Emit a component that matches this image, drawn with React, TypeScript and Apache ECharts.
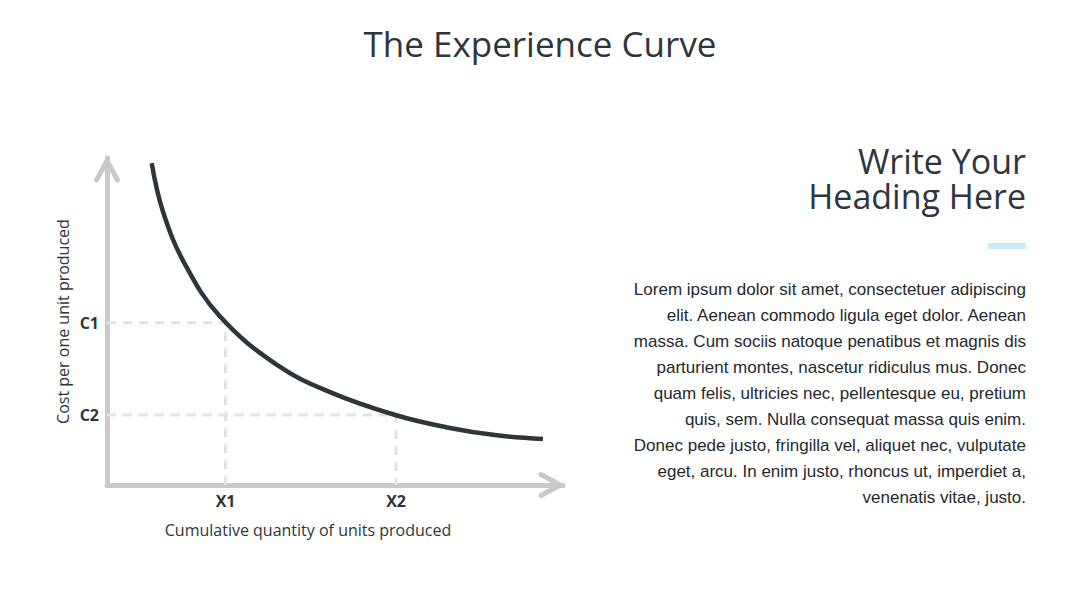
import React, { useEffect, useRef } from "react";
import * as echarts from "echarts";

// Experience curve: cost per unit against cumulative output
const curveX = [9.8, 12.3, 17.1, 24.8, 37.2, 48.9, 63.2, 74.6, 85.5, 95.6];
const curveY = [98.4, 83.5, 67.5, 51.5, 36.8, 28.4, 21.4, 17.6, 15.2, 14.1];

// Reference quantities (x) and their unit costs (y)
const xMarkLabels = ["X1", "X2"];
const xMarkValues = [26.0, 63.4];
const yMarkLabels = ["C1", "C2"];
const yMarkValues = [49.6, 21.4];

const titleText = "The Experience Curve";
const headingLines = ["Write Your", "Heading Here"];
const bodyText = [
  "Lorem ipsum dolor sit amet, consectetuer adipiscing",
  "elit. Aenean commodo ligula eget dolor. Aenean",
  "massa. Cum sociis natoque penatibus et magnis dis",
  "parturient montes, nascetur ridiculus mus. Donec",
  "quam felis, ultricies nec, pellentesque eu, pretium",
  "quis, sem. Nulla consequat massa quis enim.",
  "Donec pede justo, fringilla vel, aliquet nec, vulputate",
  "eget, arcu. In enim justo, rhoncus ut, imperdiet a,",
  "venenatis vitae, justo.",
];
const xAxisName = "Cumulative quantity of units produced";
const yAxisName = "Cost per one unit produced";

const DARK = "#2e363b";
const AXIS_GREY = "#c9c9c9";
const DASH_GREY = "#e3e3e3";
const SANS = "'Open Sans', 'Noto Sans', sans-serif";

// Open chevron arrowhead (pointing up in its own frame)
const CHEVRON =
  "path://M13 0 L25.5 23 A2.5 2.5 0 0 1 21.1 25.4 L13 10.5 L4.9 25.4 A2.5 2.5 0 0 1 0.5 23 Z";

export default function App() {
  const ref = useRef<HTMLDivElement>(null);

  useEffect(() => {
    if (!ref.current) return;
    const chart = echarts.init(ref.current, undefined, { renderer: "svg" });

    const axisLineBase = {
      show: true,
      onZero: true,
      symbol: ["none", CHEVRON],
      symbolSize: [26, 27],
      symbolOffset: [0, -11],
      lineStyle: { color: AXIS_GREY, width: 5, cap: "round" as const },
    };

    const guideSeries = xMarkValues.map((xv, i) => ({
      type: "line" as const,
      data: [
        [0, yMarkValues[i]],
        [xv, yMarkValues[i]],
        [xv, 0],
      ],
      symbol: "none",
      silent: true,
      z: 1,
      lineStyle: { color: DASH_GREY, width: 3, type: [9, 7] as number[] },
    }));

    const markLabel = (labels: string[], values: number[]) => (v: number) => {
      const i = values.findIndex((m) => Math.abs(m - v) < 1e-6);
      return i >= 0 ? labels[i] : "";
    };

    chart.setOption({
      animation: false,
      backgroundColor: "#ffffff",
      title: {
        text: titleText,
        left: "center",
        top: 21,
        textStyle: { fontFamily: SANS, fontSize: 35, fontWeight: "normal", color: DARK },
      },
      grid: { left: 107, right: 517, top: 158, bottom: 123, containLabel: false },
      xAxis: {
        type: "value",
        min: 0,
        max: 100,
        name: xAxisName,
        nameLocation: "middle",
        nameGap: 37,
        nameTextStyle: {
          fontFamily: SANS,
          fontSize: 16,
          color: DARK,
          padding: [0, 54, 0, 0],
        },
        axisLine: axisLineBase,
        axisTick: { show: false },
        splitLine: { show: false },
        axisLabel: {
          customValues: xMarkValues,
          formatter: markLabel(xMarkLabels, xMarkValues),
          margin: 8,
          fontFamily: SANS,
          fontSize: 16,
          fontWeight: "bold",
          color: DARK,
        },
      },
      yAxis: {
        type: "value",
        min: 0,
        max: 100,
        name: yAxisName,
        nameLocation: "middle",
        nameGap: 36,
        nameTextStyle: { fontFamily: SANS, fontSize: 16, color: DARK },
        axisLine: axisLineBase,
        axisTick: { show: false },
        splitLine: { show: false },
        axisLabel: {
          customValues: yMarkValues,
          formatter: markLabel(yMarkLabels, yMarkValues),
          margin: 8,
          fontFamily: SANS,
          fontSize: 16,
          fontWeight: "bold",
          color: DARK,
        },
      },
      series: [
        ...guideSeries,
        {
          type: "line",
          data: curveX.map((x, i) => [x, curveY[i]]),
          smooth: 0.4,
          symbol: "none",
          z: 3,
          lineStyle: { color: DARK, width: 4.5 },
        },
      ],
      graphic: [
        ...headingLines.map((line, i) => ({
          type: "text",
          x: 1026,
          y: 144 + i * 35,
          style: {
            text: line,
            fontFamily: SANS,
            fontSize: 34,
            fill: DARK,
            align: "right",
            verticalAlign: "top",
          },
        })),
        {
          type: "rect",
          shape: { x: 988, y: 243, width: 38, height: 6 },
          style: { fill: "#c5edfa" },
        },
        {
          type: "text",
          x: 1026,
          y: 276,
          style: {
            text: bodyText.join("\n"),
            fontFamily: "'Liberation Sans', Arial, sans-serif",
            fontSize: 17,
            lineHeight: 26,
            fill: "#26292b",
            align: "right",
            verticalAlign: "top",
          },
        },
      ],
    });

    return () => chart.dispose();
  }, []);

  return (
    <div
      ref={ref}
      style={{ position: "fixed", left: 0, top: 0, width: 1080, height: 608, background: "#fff" }}
    />
  );
}
